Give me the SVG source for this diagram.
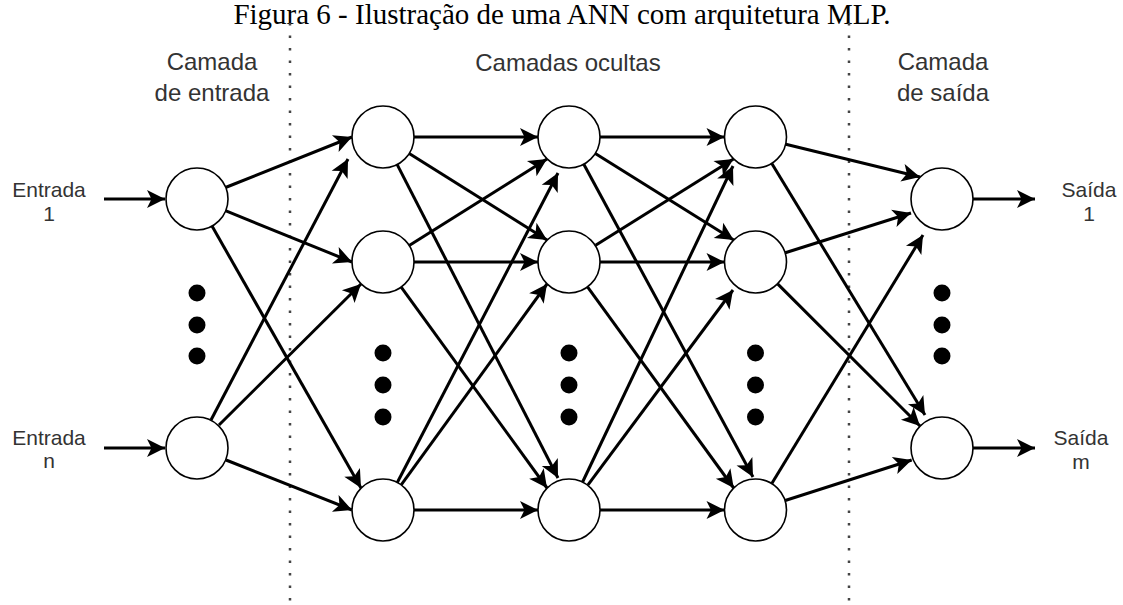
<svg xmlns="http://www.w3.org/2000/svg" width="1123" height="605" viewBox="0 0 1123 605">
<style>
.title{font-family:"Liberation Serif","Times New Roman",serif;font-size:29px;fill:#000;text-anchor:middle}
.lbl{font-family:"Liberation Sans",Arial,sans-serif;font-size:24px;fill:#333;text-anchor:middle}
.io{font-family:"Liberation Sans",Arial,sans-serif;font-size:21px;fill:#333;text-anchor:middle}
.node{fill:#fff;stroke:#000;stroke-width:1.6}
.dot{fill:#000}
.sep{stroke:#444;stroke-width:2.5;stroke-dasharray:2.5 10}
.edge{stroke:#000;stroke-width:3;fill:none;marker-end:url(#arr)}
</style>
<defs>
<marker id="arr" markerUnits="userSpaceOnUse" markerWidth="22" markerHeight="22" viewBox="-20 -11 22 22" refX="0" refY="0" orient="auto" overflow="visible">
<path d="M0,0 L-18,-9 L-13.5,0 L-18,9 Z" fill="#000"/>
</marker>
</defs>
<rect width="1123" height="605" fill="#fff"/>
<text class="title" x="562" y="24">Figura 6 - Ilustração de uma ANN com arquitetura MLP.</text>
<g id="separators">
<line class="sep" x1="290" y1="23" x2="290" y2="605"/>
<line class="sep" x1="849" y1="23" x2="849" y2="605"/>
</g>
<g id="layer-labels">
<text class="lbl" x="212" y="70">Camada</text>
<text class="lbl" x="212" y="101">de entrada</text>
<text class="lbl" x="568" y="71">Camadas ocultas</text>
<text class="lbl" x="943" y="70">Camada</text>
<text class="lbl" x="943" y="101">de saída</text>
</g>
<g id="io-labels">
<text class="io" x="49" y="197">Entrada</text>
<text class="io" x="49" y="221">1</text>
<text class="io" x="49" y="445">Entrada</text>
<text class="io" x="49" y="468">n</text>
<text class="io" x="1089" y="197">Saída</text>
<text class="io" x="1089" y="221">1</text>
<text class="io" x="1081" y="445">Saída</text>
<text class="io" x="1081" y="469">m</text>
</g>
<g id="connectors">
<line class="edge" x1="104" y1="199" x2="165" y2="199"/>
<line class="edge" x1="104" y1="448" x2="165" y2="448"/>
<line class="edge" x1="973" y1="199" x2="1035" y2="199"/>
<line class="edge" x1="973" y1="448" x2="1035" y2="448"/>
<line class="edge" x1="225.5" y1="187.5" x2="352" y2="137"/>
<line class="edge" x1="225.4" y1="210.7" x2="352" y2="262"/>
<line class="edge" x1="212" y1="226" x2="361" y2="488"/>
<line class="edge" x1="211" y1="420" x2="348" y2="159"/>
<line class="edge" x1="219" y1="425" x2="361" y2="284"/>
<line class="edge" x1="226" y1="460" x2="352" y2="510"/>
<line class="edge" x1="414" y1="137" x2="538" y2="137"/>
<line class="edge" x1="409.2" y1="153.5" x2="547" y2="240"/>
<line class="edge" x1="397.2" y1="164.6" x2="558" y2="478"/>
<line class="edge" x1="409.2" y1="245.5" x2="547" y2="159"/>
<line class="edge" x1="414" y1="262" x2="538" y2="262"/>
<line class="edge" x1="401.2" y1="287.1" x2="547" y2="488"/>
<line class="edge" x1="397.3" y1="482.5" x2="558" y2="173"/>
<line class="edge" x1="401.2" y1="484.9" x2="547" y2="284"/>
<line class="edge" x1="414" y1="510" x2="538" y2="510"/>
<line class="edge" x1="600" y1="137" x2="724.5" y2="137"/>
<line class="edge" x1="595.3" y1="153.4" x2="733.7" y2="240"/>
<line class="edge" x1="583.8" y1="164.3" x2="753" y2="477"/>
<line class="edge" x1="595.6" y1="245.2" x2="733.5" y2="159"/>
<line class="edge" x1="600" y1="262" x2="724.5" y2="262"/>
<line class="edge" x1="587.5" y1="286.8" x2="733.7" y2="488"/>
<line class="edge" x1="582.6" y1="482" x2="733" y2="166"/>
<line class="edge" x1="587.8" y1="485.1" x2="733" y2="290"/>
<line class="edge" x1="600" y1="510" x2="724.5" y2="510"/>
<line class="edge" x1="785.8" y1="144.3" x2="920" y2="177"/>
<line class="edge" x1="785.3" y1="252.7" x2="911" y2="213"/>
<line class="edge" x1="771.8" y1="483.5" x2="923" y2="235"/>
<line class="edge" x1="771.8" y1="163.5" x2="925" y2="415"/>
<line class="edge" x1="777.6" y1="283.9" x2="920" y2="426"/>
<line class="edge" x1="785.2" y1="500.5" x2="911.7" y2="460"/>
</g>
<g id="input-1"><circle class="node" cx="197" cy="199" r="31"/></g>
<g id="input-n"><circle class="node" cx="197" cy="448" r="31"/></g>
<g id="input-dots"><circle class="dot" cx="197" cy="293" r="8.5"/><circle class="dot" cx="197" cy="325" r="8.5"/><circle class="dot" cx="197" cy="356" r="8.5"/></g>
<g id="h1-1"><circle class="node" cx="383" cy="137" r="31"/></g>
<g id="h1-2"><circle class="node" cx="383" cy="262" r="31"/></g>
<g id="h1-3"><circle class="node" cx="383" cy="510" r="31"/></g>
<g id="h1-dots"><circle class="dot" cx="383" cy="353" r="8.5"/><circle class="dot" cx="383" cy="385" r="8.5"/><circle class="dot" cx="383" cy="417" r="8.5"/></g>
<g id="h2-1"><circle class="node" cx="569" cy="137" r="31"/></g>
<g id="h2-2"><circle class="node" cx="569" cy="262" r="31"/></g>
<g id="h2-3"><circle class="node" cx="569" cy="510" r="31"/></g>
<g id="h2-dots"><circle class="dot" cx="569" cy="353" r="8.5"/><circle class="dot" cx="569" cy="385" r="8.5"/><circle class="dot" cx="569" cy="417" r="8.5"/></g>
<g id="h3-1"><circle class="node" cx="755.5" cy="137" r="31"/></g>
<g id="h3-2"><circle class="node" cx="755.5" cy="262" r="31"/></g>
<g id="h3-3"><circle class="node" cx="755.5" cy="510" r="31"/></g>
<g id="h3-dots"><circle class="dot" cx="755.5" cy="353" r="8.5"/><circle class="dot" cx="755.5" cy="385" r="8.5"/><circle class="dot" cx="755.5" cy="417" r="8.5"/></g>
<g id="output-1"><circle class="node" cx="942" cy="199" r="31"/></g>
<g id="output-m"><circle class="node" cx="942" cy="448" r="31"/></g>
<g id="output-dots"><circle class="dot" cx="942" cy="293" r="8.5"/><circle class="dot" cx="942" cy="325" r="8.5"/><circle class="dot" cx="942" cy="356" r="8.5"/></g>
</svg>
